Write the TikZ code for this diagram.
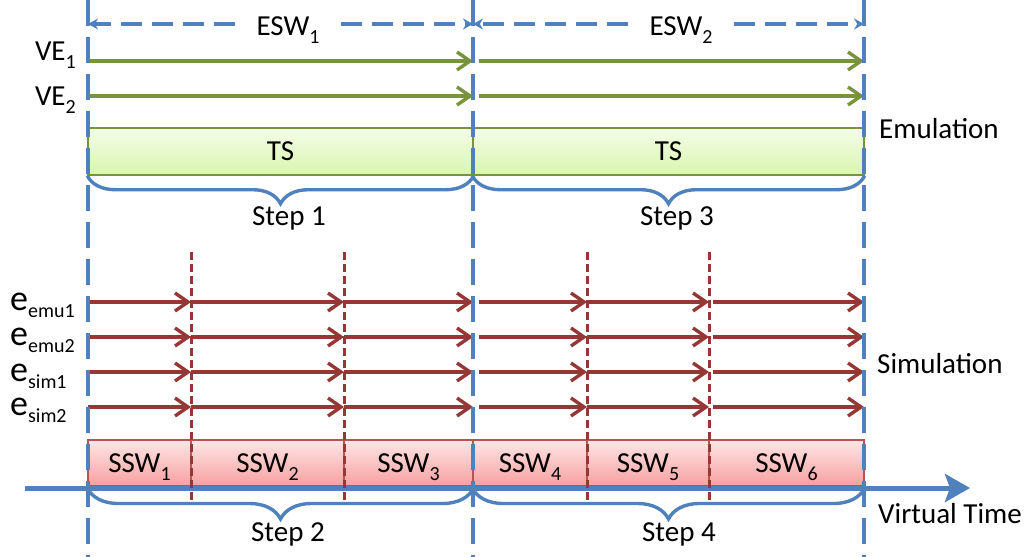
\documentclass[tikz,border=0pt]{standalone}
\usepackage{fontspec}
\setmainfont{Carlito}
\usetikzlibrary{arrows.meta,decorations.pathreplacing}

\definecolor{axisblue}{HTML}{4F81BD}
\definecolor{emugreen}{HTML}{77933C}
\definecolor{simred}{HTML}{953735}
\definecolor{tstop}{HTML}{F4FDE9}
\definecolor{tsbot}{HTML}{D8F6AC}
\definecolor{sswtop}{HTML}{FFE6E6}
\definecolor{sswbot}{HTML}{F6A0A0}
\definecolor{sswedge}{HTML}{B65452}

% label fonts
\newcommand\lblfont{\fontsize{29}{34}\selectfont}
\newcommand\sbs[1]{\raisebox{-0.28em}{\fontsize{20}{20}\selectfont #1}}
\newcommand\evar[1]{{\fontsize{36}{36}\selectfont e}\raisebox{-7pt}{\fontsize{20}{20}\selectfont #1}}

\begin{document}
\begin{tikzpicture}[x=1pt,y=-1pt,
  lab/.style={font=\lblfont, inner sep=0pt},
  winline/.style={axisblue, line width=3.4pt, dash pattern=on 26pt off 11pt},
  subline/.style={simred, line width=3pt, dash pattern=on 8pt off 4pt},
  emuarrow/.style={emugreen, line width=3.4pt, -{Straight Barb[length=13pt,width=18pt]}},
  simarrow/.style={simred, line width=3.4pt, -{Straight Barb[length=13pt,width=18pt]}},
  winspan/.style={axisblue, line width=3.4pt, dash pattern=on 21pt off 10pt, dash phase=-10pt,
    -{Stealth[length=10pt,width=11pt]}},
  stepbrace/.style={axisblue, line width=3.4pt, decorate,
    decoration={brace, mirror, amplitude=#1}},
  tsbar/.style={draw=emugreen, line width=1.4pt, top color=tstop, bottom color=tsbot,
    minimum height=47pt, inner sep=0pt, font=\lblfont, text height=18.3pt, text depth=0pt},
  sswcell/.style={draw=sswedge, line width=1.4pt, top color=sswtop, bottom color=sswbot,
    minimum height=46pt, inner sep=0pt, font=\lblfont, text height=18.3pt, text depth=0pt},
  timeaxis/.style={axisblue, line width=5pt, -{Stealth[length=25pt,width=28pt,inset=5pt]}}
]
\useasboundingbox (0,0) rectangle (1031,557);

% ---- emulation bars (time slices) ----
\node[tsbar, minimum width=385pt] (ts1) at (280.5,151.5) {TS};
\node[tsbar, minimum width=391pt] (ts2) at (668.5,151.5) {TS};

% ---- simulation sub-windows ----
\node[sswcell, minimum width=103pt] (ssw1) at (139.5,463) {SSW\sbs{1}};
\node[sswcell, minimum width=153pt] (ssw2) at (267.5,463) {SSW\sbs{2}};
\node[sswcell, minimum width=129pt] (ssw3) at (408.5,463) {SSW\sbs{3}};
\node[sswcell, minimum width=114pt] (ssw4) at (530,463) {SSW\sbs{4}};
\node[sswcell, minimum width=122pt] (ssw5) at (648,463) {SSW\sbs{5}};
\node[sswcell, minimum width=155pt] (ssw6) at (786.5,463) {SSW\sbs{6}};

% ---- virtual time axis ----
\coordinate (axs) at (25,488);
\coordinate (axe) at (970,488);
\draw[timeaxis] (axs) -- (axe);

% ---- emulation events ----
\foreach \r/\y in {1/61,2/96} {
  \foreach \a/\b [count=\k] in {88/473,479/864} {
    \coordinate (ve\r a\k) at (\a,\y);
    \coordinate (ve\r b\k) at (\b,\y);
    \draw[emuarrow] (ve\r a\k) -- (ve\r b\k);
  }
}

% ---- simulation events ----
\foreach \r/\y in {1/302,2/337,3/372,4/407} {
  \foreach \a/\b [count=\k] in {88/191,191/344,344/473,479/587,587/709,713/864} {
    \coordinate (ev\r a\k) at (\a,\y);
    \coordinate (ev\r b\k) at (\b,\y);
    \draw[simarrow] (ev\r a\k) -- (ev\r b\k);
  }
}

% ---- simulation sub-window boundaries ----
\foreach \x [count=\k] in {191,344,587,709} {
  \coordinate (st\k) at (\x,252);
  \coordinate (sb\k) at (\x,505);
  \draw[subline] (st\k) -- (sb\k);
}

% ---- emulation window boundaries ----
\foreach \x [count=\k] in {88,473,864} {
  \coordinate (wt\k) at (\x,0);
  \coordinate (wb\k) at (\x,557);
  \draw[winline] (wt\k) -- (wb\k);
}

% ---- window spans ----
\coordinate (sp0) at (88,24);
\coordinate (sp1) at (473,24);
\coordinate (sp2) at (864,24);
\node[lab, inner xsep=11pt, inner ysep=3pt, anchor=base] (esw1) at (288,35) {ESW\sbs{1}};
\node[lab, inner xsep=11pt, inner ysep=3pt, anchor=base] (esw2) at (681,35) {ESW\sbs{2}};
\draw[winspan] (esw1.west |- sp0) -- (sp0);
\draw[winspan] (esw1.east |- sp0) -- (sp1);
\draw[winspan] (esw2.west |- sp1) -- (sp1);
\draw[winspan] (esw2.east |- sp2) -- (sp2);

% ---- steps ----
\draw[stepbrace=28pt] (ts1.south west) -- (ts1.south east);
\draw[stepbrace=28pt] (ts2.south west) -- (ts2.south east);
\draw[stepbrace=31pt] (axs -| ssw1.west) -- (axs -| ssw3.east);
\draw[stepbrace=31pt] (axs -| ssw4.west) -- (axs -| ssw6.east);
\node[lab, anchor=base] (step1) at (289,225) {Step 1};
\node[lab, anchor=base] (step3) at (677,225) {Step 3};
\node[lab, anchor=base] (step2) at (288,541) {Step 2};
\node[lab, anchor=base] (step4) at (679,541) {Step 4};

% ---- row labels ----
\node[lab, anchor=base east] (ve1) at (76,60) {VE\sbs{1}};
\node[lab, anchor=base east] (ve2) at (76,105) {VE\sbs{2}};
\node[lab, anchor=base west] (em1) at (10,310) {\evar{emu1}};
\node[lab, anchor=base west] (em2) at (10,345) {\evar{emu2}};
\node[lab, anchor=base west] (si1) at (10,381) {\evar{sim1}};
\node[lab, anchor=base west] (si2) at (10,415) {\evar{sim2}};

% ---- side labels ----
\node[lab, anchor=base west] (emul) at (879,138) {Emulation};
\node[lab, anchor=base west] (simul) at (877,373) {Simulation};
\node[lab, anchor=base west] (vtime) at (878,523) {Virtual Time};
\end{tikzpicture}
\end{document}
